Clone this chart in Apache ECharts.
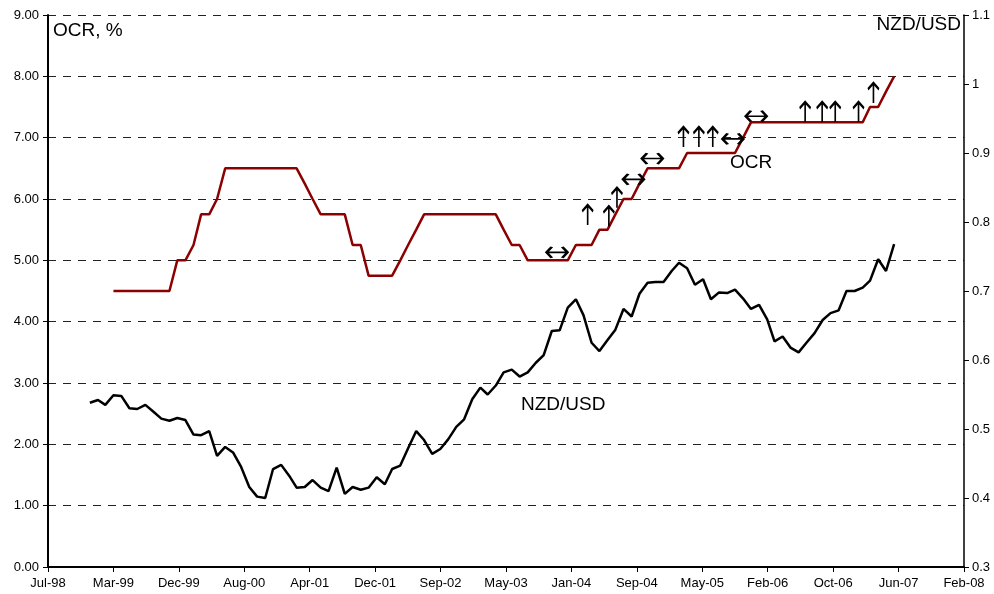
<!DOCTYPE html>
<html>
<head>
<meta charset="utf-8">
<title>OCR and NZD/USD</title>
<script src="https://cdn.jsdelivr.net/npm/echarts@6/dist/echarts.min.js"></script>
<style>
html, body { margin: 0; padding: 0; background: #fff; }
#main { width: 994px; height: 594px; }
</style>
</head>
<body>
<div id="main"></div>
<script>
// monthly observations, plotted at the end of each month
var ocrStart = '1999-03';
var ocrValues = [
  4.5, 4.5, 4.5, 4.5, 4.5, 4.5, 4.5, 4.5, 5.0, 5.0,             // Mar99 - Dec99
  5.25, 5.75, 5.75, 6.0, 6.5, 6.5, 6.5, 6.5, 6.5, 6.5, 6.5, 6.5, // 2000
  6.5, 6.5, 6.25, 6.0, 5.75, 5.75, 5.75, 5.75, 5.25, 5.25, 4.75, 4.75, // 2001
  4.75, 4.75, 5.0, 5.25, 5.5, 5.75, 5.75, 5.75, 5.75, 5.75, 5.75, 5.75, // 2002
  5.75, 5.75, 5.75, 5.5, 5.25, 5.25, 5.0, 5.0, 5.0, 5.0, 5.0, 5.0,     // 2003
  5.25, 5.25, 5.25, 5.5, 5.5, 5.75, 6.0, 6.0, 6.25, 6.5, 6.5, 6.5,     // 2004
  6.5, 6.5, 6.75, 6.75, 6.75, 6.75, 6.75, 6.75, 6.75, 7.0, 7.25, 7.25, // 2005
  7.25, 7.25, 7.25, 7.25, 7.25, 7.25, 7.25, 7.25, 7.25, 7.25, 7.25, 7.25, // 2006
  7.25, 7.5, 7.5, 7.75, 8.0                                            // 2007
];

var nzdStart = '1998-12';
var nzdValues = [
  0.538,                                                                       // Dec98
  0.542, 0.535, 0.549, 0.548, 0.530, 0.529, 0.535, 0.525, 0.515, 0.512, 0.516, 0.513, // 1999
  0.492, 0.491, 0.497, 0.461, 0.474, 0.466, 0.445, 0.416, 0.402, 0.400, 0.442, 0.448, // 2000
  0.432, 0.415, 0.416, 0.426, 0.415, 0.410, 0.444, 0.406, 0.416, 0.412, 0.415, 0.430, // 2001
  0.420, 0.442, 0.447, 0.472, 0.497, 0.484, 0.464, 0.471, 0.485, 0.503, 0.514, 0.543, // 2002
  0.560, 0.550, 0.563, 0.582, 0.586, 0.576, 0.582, 0.596, 0.607, 0.642, 0.643, 0.676, // 2003
  0.688, 0.665, 0.625, 0.613, 0.629, 0.644, 0.674, 0.663, 0.696, 0.712, 0.713, 0.713, // 2004
  0.729, 0.741, 0.733, 0.709, 0.717, 0.688, 0.698, 0.697, 0.702, 0.689, 0.674, 0.680, // 2005
  0.659, 0.627, 0.634, 0.618, 0.611, 0.625, 0.639, 0.658, 0.668, 0.672, 0.700, 0.700, // 2006
  0.705, 0.715, 0.746, 0.729, 0.768                                             // 2007
];

// policy bias markers: date, OCR level, kind (up = tightening, flat = neutral)
var arrows = [
  ['2003-11-20', 5.13, 'flat'],
  ['2004-03-16', 5.74, 'up'],
  ['2004-06-05', 5.72, 'up'],
  ['2004-07-06', 6.02, 'up'],
  ['2004-09-07', 6.32, 'flat'],
  ['2004-11-18', 6.66, 'flat'],
  ['2005-03-17', 7.01, 'up'],
  ['2005-05-15', 7.01, 'up'],
  ['2005-07-07', 7.01, 'up'],
  ['2005-09-22', 6.98, 'flat'],
  ['2005-12-20', 7.35, 'flat'],
  ['2006-06-25', 7.42, 'up'],
  ['2006-08-29', 7.42, 'up'],
  ['2006-10-18', 7.42, 'up'],
  ['2007-01-15', 7.42, 'up'],
  ['2007-03-13', 7.73, 'up']
];

var monthNames = ['Jan','Feb','Mar','Apr','May','Jun','Jul','Aug','Sep','Oct','Nov','Dec'];
var DAY = 86400000;
var EPOCH = Date.UTC(1899, 11, 30); // spreadsheet day 0

var arrowShapes = {
  up:   { symbol: 'path://M6,20L6,1M1,7L6,1L11,7', size: [11, 20] },
  flat: { symbol: 'path://M1,6L21,6M6,1L1,6L6,11M16,1L21,6L16,11', size: [21, 11] }
};

function monthEnd(ym, k) {
  var p = ym.split('-');
  return (Date.UTC(+p[0], +p[1] - 1 + k + 1, 0) - EPOCH) / DAY;
}
function daySerial(s) {
  var p = s.split('-');
  return (Date.UTC(+p[0], +p[1] - 1, +p[2]) - EPOCH) / DAY;
}
function series(start, vals) {
  var out = [];
  for (var i = 0; i < vals.length; i++) out.push([monthEnd(start, i), vals[i]]);
  return out;
}

var font = 'Liberation Sans, Arial, sans-serif';
var chart = echarts.init(document.getElementById('main'));

chart.setOption({
  animation: false,
  backgroundColor: '#fff',
  grid: { left: 48, right: 30, top: 15, bottom: 27 },
  xAxis: {
    type: 'value',
    min: 36000,
    max: 39500,
    interval: 250,
    axisLine: { lineStyle: { color: '#000', width: 2 } },
    axisTick: { length: 5, lineStyle: { color: '#000' } },
    splitLine: { show: false },
    axisLabel: {
      color: '#000', fontFamily: font, fontSize: 13, margin: 10,
      formatter: function (v) {
        var d = new Date(EPOCH + v * DAY);
        return monthNames[d.getUTCMonth()] + '-' + String(d.getUTCFullYear()).slice(2);
      }
    }
  },
  yAxis: [
    {
      type: 'value', min: 0, max: 9, interval: 1,
      axisLine: { show: true, lineStyle: { color: '#000', width: 2 } },
      axisTick: { show: true, length: 5, lineStyle: { color: '#000' } },
      splitLine: { show: true, lineStyle: { color: '#222', type: [8, 7], width: 1 } },
      axisLabel: { color: '#000', fontFamily: font, fontSize: 13, margin: 9,
        formatter: function (v) { return v.toFixed(2); } }
    },
    {
      type: 'value', min: 0.3, max: 1.1, interval: 0.1, position: 'right',
      axisLine: { show: true, lineStyle: { color: '#000', width: 1.5 } },
      axisTick: { show: true, length: 5, lineStyle: { color: '#000' } },
      splitLine: { show: false },
      axisLabel: { color: '#000', fontFamily: font, fontSize: 13, margin: 8,
        formatter: function (v) { return String(Math.round(v * 10) / 10); } }
    }
  ],
  series: [
    {
      name: 'OCR', type: 'line', yAxisIndex: 0, showSymbol: false, symbol: 'none',
      lineStyle: { color: '#8b0000', width: 2.5 },
      data: series(ocrStart, ocrValues)
    },
    {
      name: 'NZD/USD', type: 'line', yAxisIndex: 1, showSymbol: false, symbol: 'none',
      lineStyle: { color: '#000', width: 2.5 },
      data: series(nzdStart, nzdValues)
    },
    {
      name: 'bias', type: 'scatter', yAxisIndex: 0, silent: true, z: 5,
      itemStyle: { color: 'rgba(0,0,0,0)', borderColor: '#000', borderWidth: 2.2, opacity: 1 },
      data: arrows.map(function (a) {
        var s = arrowShapes[a[2]];
        return { value: [daySerial(a[0]), a[1]], symbol: s.symbol, symbolSize: s.size };
      })
    }
  ],
  graphic: [
    { type: 'text', left: 53, top: 21, style: { text: 'OCR, %', font: '19px ' + font, fill: '#000' } },
    { type: 'text', right: 33, top: 15, style: { text: 'NZD/USD', font: '19px ' + font, fill: '#000' } },
    { type: 'text', left: 730, top: 153, style: { text: 'OCR', font: '19px ' + font, fill: '#000' } },
    { type: 'text', left: 521, top: 395, style: { text: 'NZD/USD', font: '19px ' + font, fill: '#000' } }
  ]
});
</script>
</body>
</html>
